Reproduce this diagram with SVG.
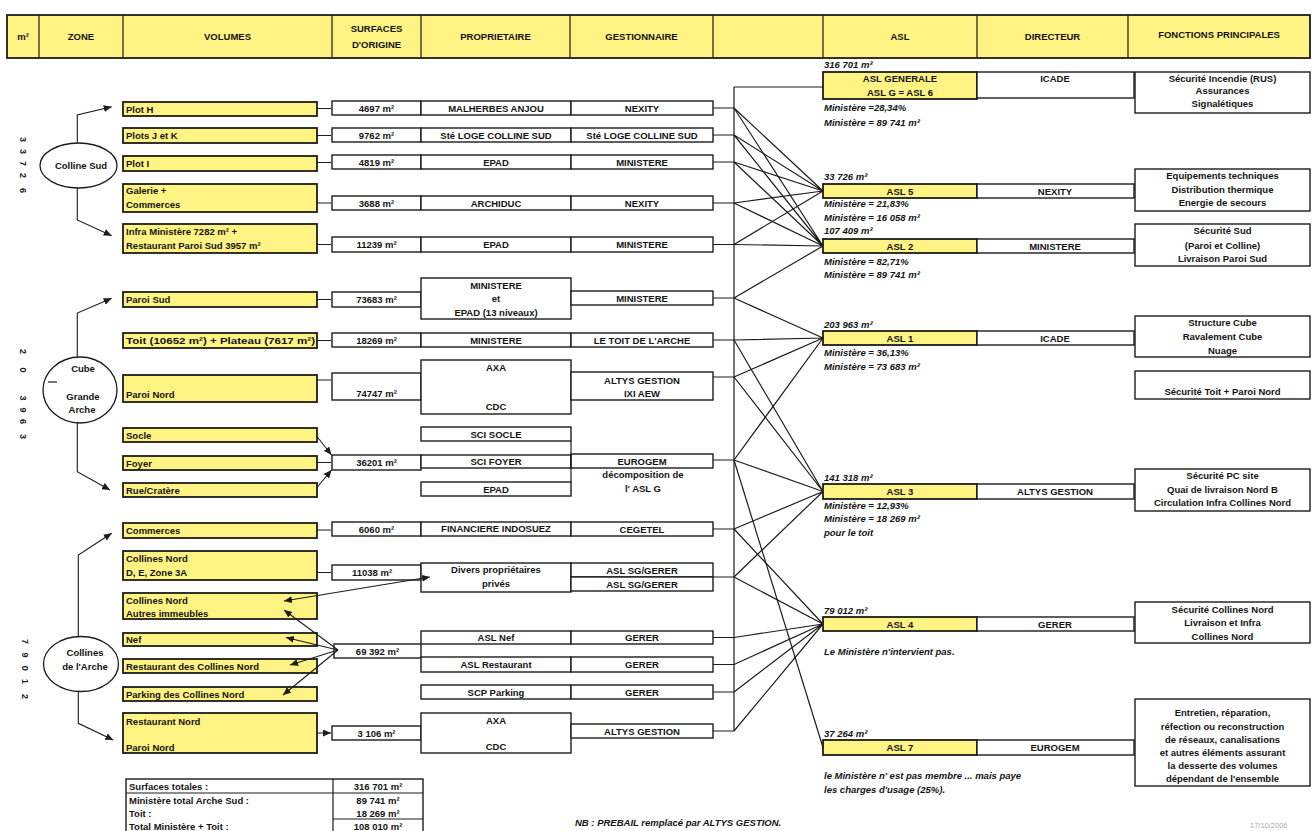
<svg xmlns="http://www.w3.org/2000/svg" width="1313" height="831" viewBox="0 0 1313 831">
<defs>
<style>
.y{fill:#FFF383;stroke:#1c1c1c;stroke-width:1.8}
.w{fill:#fff;stroke:#1c1c1c;stroke-width:1.4}
.t{font-family:"Liberation Sans",Arial,sans-serif;font-weight:bold;font-size:9.5px;fill:#141414}
.c{text-anchor:middle}
.i{font-style:italic}
.ln{stroke:#1c1c1c;stroke-width:1.2;fill:none}
.ar{stroke:#1c1c1c;stroke-width:1.1;fill:none;marker-end:url(#ah)}
.zn{fill:#fff;stroke:#1c1c1c;stroke-width:1.3}
.dg{font-family:"Liberation Sans",Arial,sans-serif;font-weight:bold;font-size:9px;fill:#222}
</style>
<marker id="ah" markerWidth="9" markerHeight="8" refX="8" refY="3.5" orient="auto" markerUnits="userSpaceOnUse"><path d="M0,0 L8,3.5 L0,7 z" fill="#1c1c1c"/></marker>
<marker id="ahs" markerWidth="9" markerHeight="8" refX="8" refY="3.5" orient="auto-start-reverse" markerUnits="userSpaceOnUse"><path d="M0,0 L8,3.5 L0,7 z" fill="#1c1c1c"/></marker>
</defs>
<rect width="1313" height="831" fill="#fff"/>

<g id="header">
<rect class="y" x="7" y="15" width="1303" height="43"/>
<path class="ln" d="M39,15V58M123,15V58M332,15V58M421,15V58M570,15V58M713,15V58M823,15V58M977,15V58M1128,15V58"/>
<text class="t c" x="23" y="40">m²</text>
<text class="t c" x="81" y="40">ZONE</text>
<text class="t c" x="227.5" y="40">VOLUMES</text>
<text class="t c" x="376.5" y="32">SURFACES</text>
<text class="t c" x="376.5" y="48">D'ORIGINE</text>
<text class="t c" x="495.5" y="40">PROPRIETAIRE</text>
<text class="t c" x="641.5" y="40">GESTIONNAIRE</text>
<text class="t c" x="900" y="40">ASL</text>
<text class="t c" x="1052.5" y="40">DIRECTEUR</text>
<text class="t c" x="1219" y="38">FONCTIONS  PRINCIPALES</text>
</g>

<g id="zone-colline-sud">
<ellipse class="zn" cx="78.5" cy="165.5" rx="38.5" ry="22.5"/>
<text class="t c" x="81" y="169">Colline  Sud</text>
<text class="dg" transform="rotate(90)" x="137 149 161 173 188" y="-20">33726</text>
</g>
<g id="zone-cube">
<ellipse class="zn" cx="80" cy="390" rx="37" ry="33"/>
<text class="t c" x="83" y="372">Cube</text>
<path class="ln" d="M48,382H57"/>
<text class="t c" x="83" y="399.5">Grande</text>
<text class="t c" x="82" y="413">Arche</text>
<text class="dg" transform="rotate(90)" x="349 367.4 395.4 407.4 419 434" y="-20">203963</text>
</g>
<g id="zone-collines">
<ellipse class="zn" cx="81" cy="664" rx="37.5" ry="27.5"/>
<text class="t c" x="85" y="656">Collines</text>
<text class="t c" x="85" y="670">de l'Arche</text>
<text class="dg" transform="rotate(90)" x="639 652.4 665.7 679 694" y="-21.7">79012</text>
</g>

<g id="plot-h"><rect class="y" x="123" y="102" width="194" height="14"/><text class="t" x="126" y="112.5">Plot H</text></g>
<g id="plots-jk"><rect class="y" x="123" y="128" width="194" height="15"/><text class="t" x="126" y="139">Plots J et K</text></g>
<g id="plot-i"><rect class="y" x="123" y="156" width="194" height="15"/><text class="t" x="126" y="167">Plot I</text></g>
<g id="galerie"><rect class="y" x="123" y="184" width="194" height="28"/><text class="t" x="126" y="194">Galerie +</text><text class="t" x="126" y="207.5">Commerces</text></g>
<g id="infra"><rect class="y" x="123" y="224" width="194" height="29"/><text class="t" x="126" y="234.5">Infra Ministère 7282 m² +</text><text class="t" x="126" y="248.5">Restaurant Paroi Sud 3957 m²</text></g>
<g id="paroi-sud"><rect class="y" x="123" y="292" width="194" height="15"/><text class="t" x="126" y="303">Paroi Sud</text></g>
<g id="toit"><rect class="y" x="123" y="333" width="194" height="15"/><text class="t" x="126" y="344" textLength="189" lengthAdjust="spacingAndGlyphs">Toit (10652 m²) + Plateau (7617 m²)</text></g>
<g id="paroi-nord"><rect class="y" x="123" y="375" width="194" height="27"/><text class="t" x="126" y="397.5">Paroi Nord</text></g>
<g id="socle"><rect class="y" x="123" y="428" width="194" height="14"/><text class="t" x="126" y="438.5">Socle</text></g>
<g id="foyer"><rect class="y" x="123" y="456" width="194" height="14"/><text class="t" x="126" y="466.5">Foyer</text></g>
<g id="rue-cratere"><rect class="y" x="123" y="483" width="194" height="14"/><text class="t" x="126" y="493.5">Rue/Cratère</text></g>
<g id="commerces"><rect class="y" x="123" y="523" width="194" height="15"/><text class="t" x="126" y="534">Commerces</text></g>
<g id="collines-nord-de"><rect class="y" x="123" y="551" width="194" height="29"/><text class="t" x="126" y="561.5">Collines Nord</text><text class="t" x="126" y="575.5">D, E, Zone 3A</text></g>
<g id="collines-nord-autres"><rect class="y" x="123" y="593" width="194" height="26"/><text class="t" x="126" y="603.5">Collines Nord</text><text class="t" x="126" y="616.5">Autres immeubles</text></g>
<g id="nef"><rect class="y" x="123" y="633" width="194" height="13"/><text class="t" x="126" y="643">Nef</text></g>
<g id="restaurant-cn"><rect class="y" x="123" y="659" width="194" height="14"/><text class="t" x="126" y="669.5">Restaurant des Collines Nord</text></g>
<g id="parking"><rect class="y" x="123" y="687" width="194" height="14"/><text class="t" x="126" y="697.5">Parking des Collines Nord</text></g>
<g id="restaurant-nord"><rect class="y" x="123" y="713" width="194" height="40"/><text class="t" x="126" y="725">Restaurant Nord</text><text class="t" x="126" y="751">Paroi Nord</text></g>

<g id="s-4697"><rect class="w" x="332" y="101" width="89" height="14"/><text class="t c" x="376.5" y="111.5">4697 m²</text></g>
<g id="s-9762"><rect class="w" x="332" y="128" width="89" height="14"/><text class="t c" x="376.5" y="138.5">9762 m²</text></g>
<g id="s-4819"><rect class="w" x="332" y="155" width="89" height="14"/><text class="t c" x="376.5" y="165.5">4819 m²</text></g>
<g id="s-3688"><rect class="w" x="332" y="196" width="89" height="14"/><text class="t c" x="376.5" y="206.5">3688 m²</text></g>
<g id="s-11239"><rect class="w" x="332" y="237" width="89" height="15"/><text class="t c" x="376.5" y="248">11239 m²</text></g>
<g id="s-73683"><rect class="w" x="332" y="292" width="89" height="15"/><text class="t c" x="376.5" y="303">73683 m²</text></g>
<g id="s-18269"><rect class="w" x="332" y="333" width="89" height="14"/><text class="t c" x="376.5" y="343.5">18269 m²</text></g>
<g id="s-74747"><rect class="w" x="332" y="373" width="89" height="27"/><text class="t c" x="376.5" y="397">74747 m²</text></g>
<g id="s-36201"><rect class="w" x="332" y="455" width="89" height="15"/><text class="t c" x="376.5" y="466">36201 m²</text></g>
<g id="s-6060"><rect class="w" x="332" y="522" width="89" height="14"/><text class="t c" x="376.5" y="532.5">6060 m²</text></g>
<g id="s-11038"><rect class="w" x="332" y="565" width="89" height="15"/><text class="t c" x="372" y="576">11038 m²</text></g>
<g id="s-69392"><rect class="w" x="334" y="644" width="87" height="14"/><text class="t c" x="377.5" y="654.5">69 392 m²</text></g>
<g id="s-3106"><rect class="w" x="332" y="726" width="89" height="14"/><text class="t c" x="376.5" y="736.5">3 106 m²</text></g>

<g id="p-malherbes"><rect class="w" x="421" y="101" width="150" height="14"/><text class="t c" x="496" y="111.5">MALHERBES ANJOU</text></g>
<g id="p-loge"><rect class="w" x="421" y="128" width="150" height="14"/><text class="t c" x="496" y="138.5">Sté LOGE COLLINE SUD</text></g>
<g id="p-epad-1"><rect class="w" x="421" y="155" width="150" height="14"/><text class="t c" x="496" y="165.5">EPAD</text></g>
<g id="p-archiduc"><rect class="w" x="421" y="196" width="150" height="14"/><text class="t c" x="496" y="206.5">ARCHIDUC</text></g>
<g id="p-epad-2"><rect class="w" x="421" y="237" width="150" height="15"/><text class="t c" x="496" y="248">EPAD</text></g>
<g id="p-ministere-epad"><rect class="w" x="421" y="278" width="150" height="41"/><text class="t c" x="496" y="288.5">MINISTERE</text><text class="t c" x="496" y="302">et</text><text class="t c" x="496" y="315.5">EPAD (13 niveaux)</text></g>
<g id="p-ministere"><rect class="w" x="421" y="333" width="150" height="14"/><text class="t c" x="496" y="343.5">MINISTERE</text></g>
<g id="p-axa-cdc-1"><rect class="w" x="421" y="360" width="150" height="54"/><text class="t c" x="496" y="370.5">AXA</text><text class="t c" x="496" y="410">CDC</text></g>
<g id="p-sci-socle"><rect class="w" x="421" y="427" width="150" height="14"/><text class="t c" x="496" y="437.5">SCI SOCLE</text></g>
<g id="p-sci-foyer"><rect class="w" x="421" y="455" width="150" height="13"/><text class="t c" x="496" y="465">SCI FOYER</text></g>
<g id="p-epad-3"><rect class="w" x="421" y="482" width="150" height="14"/><text class="t c" x="496" y="492.5">EPAD</text></g>
<g id="p-indosuez"><rect class="w" x="421" y="522" width="150" height="14"/><text class="t c" x="496" y="532.3" font-size="8.5">FINANCIERE  INDOSUEZ</text></g>
<g id="p-divers"><rect class="w" x="421" y="563" width="150" height="29"/><text class="t c" x="496" y="573">Divers propriétaires</text><text class="t c" x="496" y="586.5">privés</text></g>
<g id="p-asl-nef"><rect class="w" x="421" y="631" width="150" height="13"/><text class="t c" x="496" y="641">ASL Nef</text></g>
<g id="p-asl-restaurant"><rect class="w" x="421" y="657" width="150" height="15"/><text class="t c" x="496" y="668">ASL Restaurant</text></g>
<g id="p-scp-parking"><rect class="w" x="421" y="685" width="150" height="14"/><text class="t c" x="496" y="695.5">SCP Parking</text></g>
<g id="p-axa-cdc-2"><rect class="w" x="421" y="713" width="150" height="40"/><text class="t c" x="496" y="724">AXA</text><text class="t c" x="496" y="750">CDC</text></g>

<g id="g-nexity-1"><rect class="w" x="571" y="101" width="142" height="14"/><text class="t c" x="642" y="111.5">NEXITY</text></g>
<g id="g-loge"><rect class="w" x="571" y="128" width="142" height="14"/><text class="t c" x="642" y="138.5">Sté LOGE COLLINE SUD</text></g>
<g id="g-ministere-1"><rect class="w" x="571" y="155" width="142" height="14"/><text class="t c" x="642" y="165.5">MINISTERE</text></g>
<g id="g-nexity-2"><rect class="w" x="571" y="196" width="142" height="14"/><text class="t c" x="642" y="206.5">NEXITY</text></g>
<g id="g-ministere-2"><rect class="w" x="571" y="237" width="142" height="15"/><text class="t c" x="642" y="248">MINISTERE</text></g>
<g id="g-ministere-3"><rect class="w" x="571" y="291" width="142" height="14"/><text class="t c" x="642" y="301.5">MINISTERE</text></g>
<g id="g-toit"><rect class="w" x="571" y="333" width="142" height="14"/><text class="t c" x="642" y="343.5">LE TOIT DE L'ARCHE</text></g>
<g id="g-altys-ixi"><rect class="w" x="571" y="372" width="142" height="28"/><text class="t c" x="642" y="383.5">ALTYS GESTION</text><text class="t c" x="642" y="396.5">IXI AEW</text></g>
<g id="g-eurogem"><rect class="w" x="571" y="454" width="142" height="14"/><text class="t c" x="642" y="464.5">EUROGEM</text><text class="t c" x="643" y="478">décomposition de</text><text class="t c" x="643" y="491.5">l' ASL G</text></g>
<g id="g-cegetel"><rect class="w" x="571" y="522" width="142" height="14"/><text class="t c" x="642" y="532.5">CEGETEL</text></g>
<g id="g-sg-gerer"><rect class="w" x="571" y="563" width="142" height="14"/><text class="t c" x="642" y="573.5">ASL SG/GERER</text><rect class="w" x="571" y="577" width="142" height="14"/><text class="t c" x="642" y="587.5">ASL SG/GERER</text></g>
<g id="g-gerer-nef"><rect class="w" x="571" y="631" width="142" height="13"/><text class="t c" x="642" y="641">GERER</text></g>
<g id="g-gerer-rest"><rect class="w" x="571" y="657" width="142" height="15"/><text class="t c" x="642" y="668">GERER</text></g>
<g id="g-gerer-park"><rect class="w" x="571" y="685" width="142" height="14"/><text class="t c" x="642" y="695.5">GERER</text></g>
<g id="g-altys"><rect class="w" x="571" y="724" width="142" height="14"/><text class="t c" x="642" y="734.5">ALTYS GESTION</text></g>

<g id="asl-g">
<text class="t i" x="824" y="68">316 701 m²</text>
<rect class="y" x="823" y="72" width="154" height="27"/>
<text class="t c" x="900" y="82">ASL GENERALE</text><text class="t c" x="900" y="95.5">ASL G = ASL 6</text>
<rect class="w" x="977" y="72" width="157" height="26"/><text class="t c" x="1055" y="82">ICADE</text>
<text class="t i" x="824" y="111">Ministère =28,34%</text>
<text class="t i" x="824" y="126">Ministère = 89 741 m²</text>
</g>
<g id="asl-5">
<text class="t i" x="824" y="180">33 726 m²</text>
<rect class="y" x="823" y="184" width="154" height="14"/><text class="t c" x="900" y="194.5">ASL 5</text>
<rect class="w" x="977" y="184" width="157" height="14"/><text class="t c" x="1055" y="194.5">NEXITY</text>
<text class="t i" x="824" y="207">Ministère = 21,83%</text>
<text class="t i" x="824" y="220.5">Ministère = 16 058 m²</text>
</g>
<g id="asl-2">
<text class="t i" x="824" y="234">107 409 m²</text>
<rect class="y" x="823" y="239" width="154" height="14"/><text class="t c" x="900" y="249.5">ASL 2</text>
<rect class="w" x="977" y="239" width="157" height="14"/><text class="t c" x="1055" y="249.5">MINISTERE</text>
<text class="t i" x="824" y="264.5">Ministère = 82,71%</text>
<text class="t i" x="824" y="278">Ministère = 89 741 m²</text>
</g>
<g id="asl-1">
<text class="t i" x="824" y="327.5">203 963 m²</text>
<rect class="y" x="823" y="331" width="154" height="14"/><text class="t c" x="900" y="341.5">ASL 1</text>
<rect class="w" x="977" y="331" width="157" height="14"/><text class="t c" x="1055" y="341.5">ICADE</text>
<text class="t i" x="824" y="356">Ministère = 36,13%</text>
<text class="t i" x="824" y="369.5">Ministère = 73 683 m²</text>
</g>
<g id="asl-3">
<text class="t i" x="824" y="480.5">141 318 m²</text>
<rect class="y" x="823" y="484" width="154" height="15"/><text class="t c" x="900" y="495">ASL 3</text>
<rect class="w" x="977" y="484" width="157" height="15"/><text class="t c" x="1055" y="495">ALTYS GESTION</text>
<text class="t i" x="824" y="508.5">Ministère = 12,93%</text>
<text class="t i" x="824" y="522">Ministère = 18 269 m²</text>
<text class="t i" x="824" y="536">pour le toit</text>
</g>
<g id="asl-4">
<text class="t i" x="824" y="613.5">79 012 m²</text>
<rect class="y" x="823" y="617" width="154" height="14"/><text class="t c" x="900" y="627.5">ASL 4</text>
<rect class="w" x="977" y="617" width="157" height="14"/><text class="t c" x="1055" y="627.5">GERER</text>
<text class="t i" x="824" y="655">Le Ministère n'intervient pas.</text>
</g>
<g id="asl-7">
<text class="t i" x="824" y="736.5">37 264 m²</text>
<rect class="y" x="823" y="740" width="154" height="15"/><text class="t c" x="900" y="751">ASL 7</text>
<rect class="w" x="977" y="740" width="157" height="15"/><text class="t c" x="1055" y="751">EUROGEM</text>
<text class="t i" x="824" y="779">le Ministère n' est pas membre ... mais paye</text>
<text class="t i" x="824" y="792.5">les charges d'usage (25%).</text>
</g>

<g id="f-asl-g"><rect class="w" x="1135" y="72" width="175" height="41"/><text class="t c" x="1222.5" y="82">Sécurité Incendie (RUS)</text><text class="t c" x="1222.5" y="94">Assurances</text><text class="t c" x="1222.5" y="107">Signalétiques</text></g>
<g id="f-asl-5"><rect class="w" x="1135" y="169" width="175" height="42"/><text class="t c" x="1222.5" y="179">Equipements techniques</text><text class="t c" x="1222.5" y="192.5">Distribution thermique</text><text class="t c" x="1222.5" y="206">Energie de secours</text></g>
<g id="f-asl-2"><rect class="w" x="1135" y="224" width="175" height="42"/><text class="t c" x="1222.5" y="233.5">Sécurité Sud</text><text class="t c" x="1222.5" y="249">(Paroi et Colline)</text><text class="t c" x="1222.5" y="262">Livraison Paroi Sud</text></g>
<g id="f-asl-1"><rect class="w" x="1135" y="316" width="175" height="41"/><text class="t c" x="1222.5" y="325.5">Structure Cube</text><text class="t c" x="1222.5" y="339.5">Ravalement Cube</text><text class="t c" x="1222.5" y="353.5">Nuage</text></g>
<g id="f-toit"><rect class="w" x="1135" y="371" width="175" height="28"/><text class="t c" x="1222.5" y="394.5">Sécurité Toit + Paroi Nord</text></g>
<g id="f-asl-3"><rect class="w" x="1135" y="469" width="175" height="42"/><text class="t c" x="1222.5" y="479">Sécurité PC site</text><text class="t c" x="1222.5" y="492.5">Quai de livraison Nord B</text><text class="t c" x="1222.5" y="506">Circulation Infra Collines Nord</text></g>
<g id="f-asl-4"><rect class="w" x="1135" y="602" width="175" height="41"/><text class="t c" x="1222.5" y="612.5">Sécurité Collines Nord</text><text class="t c" x="1222.5" y="626">Livraison et Infra</text><text class="t c" x="1222.5" y="639.5">Collines Nord</text></g>
<g id="f-asl-7"><rect class="w" x="1135" y="699" width="175" height="87"/><text class="t c" x="1222.5" y="716">Entretien, réparation,</text><text class="t c" x="1222.5" y="729.5">réfection ou reconstruction</text><text class="t c" x="1222.5" y="742.5">de réseaux, canalisations</text><text class="t c" x="1222.5" y="756">et autres éléments assurant</text><text class="t c" x="1222.5" y="769">la desserte des volumes</text><text class="t c" x="1222.5" y="782">dépendant de l'ensemble</text></g>

<g id="summary">
<rect class="w" x="126" y="779" width="297" height="60"/>
<path class="ln" d="M126,793H423M333,779V831M333,819H423"/>
<text class="t" x="129" y="790">Surfaces totales :</text>
<text class="t" x="129" y="803.5">Ministère total Arche Sud :</text>
<text class="t" x="129" y="816.5">Toit :</text>
<text class="t" x="129" y="829.5">Total Ministère + Toit :</text>
<text class="t c" x="378" y="790">316 701 m²</text>
<text class="t c" x="378" y="803.5">89 741 m²</text>
<text class="t c" x="378" y="816.5">18 269 m²</text>
<text class="t c" x="378" y="829.5">108 010 m²</text>
</g>
<g id="note">
<text class="t i" x="575" y="826">NB : PREBAIL remplacé par ALTYS GESTION.</text>
<text x="1250" y="828" font-family="Liberation Sans, Arial, sans-serif" font-size="7.5" fill="#aaa">17/10/2006</text>
</g>

<g id="connectors">
<path class="ar" d="M77.3,143V115L111.7,106.7"/>
<path class="ar" d="M77.3,188V220L111.7,235.7"/>
<path class="ar" d="M77.3,357V313L111.7,298.3"/>
<path class="ar" d="M77.3,423V471.7L110,490"/>
<path class="ar" d="M78.3,636.5V555L111.7,533.3"/>
<path class="ar" d="M78.3,691.5V723.3L113.3,740"/>
<path class="ar" d="M317,108.5H331M317,135.5H331M317,162.5H331M317,203H331M317,244.5H331M317,299.5H331M317,340.5H331M317,380H331M317,462.5H331M317,530H331M317,572.5H331M317,733H331"/>
<path class="ar" d="M317,436.5L331.5,455"/>
<path class="ar" d="M317,487.5L331.5,470"/>
<path class="ar" d="M338,650L284,610"/>
<path class="ar" d="M338,650L286,637.5"/>
<path class="ar" d="M338,650L290,665"/>
<path class="ar" d="M338,650L283,695"/>
<path class="ln" d="M284,601L430,577" marker-start="url(#ahs)" marker-end="url(#ah)"/>
<path class="ln" d="M571,441V482"/>
<path class="ln" d="M734,87V731M734,87H823"/>
<path class="ln" d="M713,108H734M713,135H734M713,162H734M713,203H734M713,244.5H734M713,298H734M713,340H734M713,377H734M713,460H734M713,529H734M713,577H734M713,637.5H734M713,664.5H734M713,692H734M713,731H734"/>
<path class="ln" d="M734,108L823,191M734,135L823,191M734,162L823,191M734,203L823,191M734,244.5L823,191"/>
<path class="ln" d="M734,108L823,246M734,135L823,246M734,162L823,246M734,203L823,246M734,244.5L823,246M734,298L823,246"/>
<path class="ln" d="M734,298L823,338M734,340L823,338M734,377L823,338M734,460L823,338"/>
<path class="ln" d="M734,340L823,491.5M734,377L823,491.5M734,460L823,491.5M734,529L823,491.5M734,577L823,491.5"/>
<path class="ln" d="M734,529L823,624M734,577L823,624M734,637.5L823,624M734,664.5L823,624M734,692L823,624M734,731L823,624"/>
<path class="ln" d="M734,460L823,747.5"/>
</g>
</svg>
